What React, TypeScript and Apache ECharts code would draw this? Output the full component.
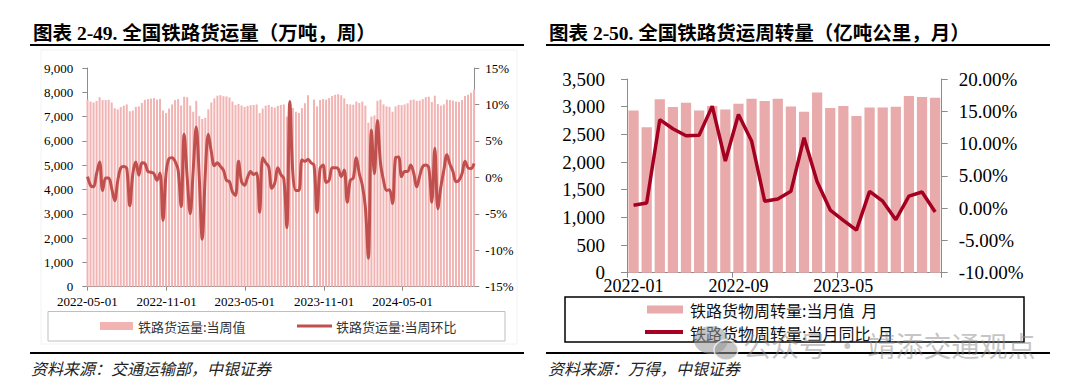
import React, { useEffect, useRef } from "react";
import * as echarts from "echarts";

// ---------- Left chart: weekly railway freight volume ----------
const weeklyStart = "2022-05-01";
const weeklyAxisMin = "2022-05-01";
const weeklyAxisMax = "2024-10-14";
const weeklyTickDates = ["2022-05-01", "2022-11-01", "2023-05-01", "2023-11-01", "2024-05-01"];

const weeklyVolume: (number | null)[] = [
  7700, 7620, 7580, 7640, 7800, 7680, 7680, 7690, 7580, 7340,
  7300, 7390, 7450, 7500, 7220, 7250, 7400, 7420, 7560, 7690,
  7720, 7740, 7760, 7700, 7730, 7250, 7150, 7330, 7500, 7680,
  7720, 7460, 7820, 7800, 7450, 7200, 7650, 7020, 6900, 6950,
  7300, 7580, 7750, 7860, 7880, 7840, 7830, 7790, 7620, 7480,
  7520, 7460, 7400, 7440, 7470, 7480, 7500, 7150, 7330, 7450,
  7480, 7400, 7370, 7440, 7480, 7500, 7000, 7620, 7350, 7200,
  7150, 7350, 7550, 7880, null, 7700, 7420, 7680, 7720, 7700,
  7760, 7850, 7900, 7920, 7880, 7750, 7520, 7500, 7490, 7620,
  7560, 7620, 7450, 6750, 7000, 7050, 7650, 7700, 7500, 7420,
  7400, 7200, 7420, 7480, 7470, 7500, 7550, 7680, 7700, 7650,
  7660, 7720, 7800, 7820, 7600, 7860, 7520, 7450, 7500, 7700,
  7680, 7660, 7620, 7600, 7680, 7850, 7900, 7980, 8120,
];

const weeklyWoW: number[] = [
  0.1, -1.1, -1.3, 0.5, 2.1, -1.8, -0.1, -0.1, -1.5, -3.2,
  -0.5, 1.3, 1.5, 1.2, -3.9, 0.5, 2.1, 0.3, 2.0, 1.9,
  0.8, 0.7, 0.5, -0.4, 0.6, -5.9, 0.5, 2.6, 2.7, 2.2,
  1.0, -4.0, 5.9, 0.0, -5.0, 1.0, 6.9, 0.0, -8.5, 0.5,
  5.9, 3.5, 1.6, 2.0, 1.5, 1.0, -0.4, -0.6, -2.0, -2.5,
  2.2, -0.6, -1.1, 0.0, 0.8, 0.4, 0.6, -4.8, 2.7, 2.0,
  1.4, -1.5, -0.8, 1.3, 0.4, -0.2, -6.9, 10.4, 0.5, -1.8,
  -1.8, 2.4, 2.2, 2.5, 2.0, 1.7, -4.8, 1.2, 1.7, -0.7,
  -0.4, 1.3, 1.3, 1.2, 0.1, 1.0, -3.4, -0.4, -0.1, 2.7,
  0.5, -1.1, -4.1, -11.1, 6.5, 0.5, 7.8, 2.0, -0.4, -1.8,
  -1.7, -3.6, 2.7, 2.8, 0.1, 0.8, 0.8, 1.7, 0.6, -1.3,
  0.2, 1.5, 1.7, 1.3, -3.4, 4.0, -4.3, -1.3, 1.0, 3.1,
  1.8, 0.8, -0.6, -0.4, 0.5, 2.2, 1.3, 1.2, 1.9,
];

// ---------- Right chart: monthly railway freight turnover ----------
const monthCategories = [
  "2022-01", "2022-02", "2022-03", "2022-04", "2022-05", "2022-06",
  "2022-07", "2022-08", "2022-09", "2022-10", "2022-11", "2022-12",
  "2023-01", "2023-02", "2023-03", "2023-04", "2023-05", "2023-06",
  "2023-07", "2023-08", "2023-09", "2023-10", "2023-11", "2023-12",
];
const monthTurnover = [
  2933, 2630, 3132, 2993, 3072, 2933, 3011, 2951, 3054, 3145, 3101, 3145,
  3005, 2909, 3254, 2975, 3011, 2830, 2987, 2987, 3000, 3192, 3174, 3163,
];
const monthYoY = [
  0.45, 0.8, 13.7, 12.3, 11.2, 11.3, 15.8, 7.3, 14.5, 10.4, 1.07, 1.4,
  2.6, 10.9, 4.1, -0.3, -1.9, -3.4, 2.6, 1.07, -1.8, 1.85, 2.5, -0.6,
];

const leftTitle = "图表 2-49. 全国铁路货运量（万吨，周）";
const rightTitle = "图表 2-50. 全国铁路货运周转量（亿吨公里，月）";
const leftLegend = ["铁路货运量:当周值", "铁路货运量:当周环比"];
const rightLegend = ["铁路货物周转量:当月值  月", "铁路货物周转量:当月同比  月"];
const leftSource = "资料来源：交通运输部，中银证券";
const rightSource = "资料来源：万得，中银证券";
const watermark = "公众号 · 靖添交通观点";

const SERIF = '"Liberation Serif", "Times New Roman", "Noto Sans CJK SC", serif';
const CJK = '"Noto Sans CJK SC", "Noto Sans", sans-serif';

const LEFT_BAR = "#F2B3B3";
const LEFT_LINE = "#C0504D";
const RIGHT_BAR = "#E8AAAA";
const RIGHT_LINE = "#A50021";
const AXIS_GRAY = "#8C8C8C";

function ts(s: string): number {
  const [y, m, d] = s.split("-").map(Number);
  return Date.UTC(y, m - 1, d);
}
function pad(n: number) {
  return n < 10 ? "0" + n : "" + n;
}
function fmtDate(v: number) {
  const d = new Date(v);
  return `${d.getUTCFullYear()}-${pad(d.getUTCMonth() + 1)}-${pad(d.getUTCDate())}`;
}
function thousands(v: number) {
  return v.toLocaleString("en-US");
}

export default function App() {
  const ref = useRef<HTMLDivElement>(null);

  useEffect(() => {
    if (!ref.current) return;
    const chart = echarts.init(ref.current, undefined, { renderer: "svg" });

    const DAY = 86400000;
    const start = ts(weeklyStart);
    const weekDates = weeklyWoW.map((_, i) => start + i * 7 * DAY + DAY / 2);
    const volData = weeklyVolume.map((v, i) => [weekDates[i], v == null ? "-" : v]);
    const wowData = weeklyWoW.map((v, i) => [weekDates[i], v]);
    const tickTs = weeklyTickDates.map(ts);

    const Z = 100;
    const graphic: any[] = [
      { type: "rect", z: 1, shape: { x: 41, y: 50, width: 476, height: 294 }, style: { fill: "none", stroke: "#F2F2F2", lineWidth: 1 } },
      { type: "text", z: Z, x: 33, y: 33, style: { text: leftTitle, font: `bold 19.5px ${SERIF}`, fill: "#000", verticalAlign: "middle" } },
      { type: "text", z: Z, x: 549, y: 33, style: { text: rightTitle, font: `bold 19.5px ${SERIF}`, fill: "#000", verticalAlign: "middle" } },
      { type: "line", z: Z, shape: { x1: 30, y1: 45, x2: 524, y2: 45 }, style: { stroke: "#000", lineWidth: 2 } },
      { type: "line", z: Z, shape: { x1: 546, y1: 45, x2: 1050, y2: 45 }, style: { stroke: "#000", lineWidth: 2 } },
      { type: "line", z: Z, shape: { x1: 30, y1: 353, x2: 524, y2: 353 }, style: { stroke: "#000", lineWidth: 2 } },
      { type: "line", z: Z, shape: { x1: 546, y1: 353, x2: 1050, y2: 353 }, style: { stroke: "#000", lineWidth: 2 } },
      { type: "text", z: Z, x: 31, y: 368, style: { text: leftSource, font: `italic 16px ${CJK}`, fill: "#222", verticalAlign: "middle" } },
      { type: "text", z: Z, x: 548, y: 368, style: { text: rightSource, font: `italic 16px ${CJK}`, fill: "#222", verticalAlign: "middle" } },
      { type: "rect", z: Z, shape: { x: 48, y: 311.5, width: 457, height: 29.5 }, style: { fill: "#fff", stroke: "#BFBFBF", lineWidth: 1 } },
      { type: "rect", z: Z + 1, shape: { x: 100, y: 322, width: 33, height: 8 }, style: { fill: LEFT_BAR } },
      { type: "text", z: Z + 1, x: 138, y: 326, style: { text: leftLegend[0], font: `13px ${CJK}`, fill: "#333", verticalAlign: "middle" } },
      { type: "line", z: Z + 1, shape: { x1: 297, y1: 326, x2: 332, y2: 326 }, style: { stroke: LEFT_LINE, lineWidth: 3 } },
      { type: "text", z: Z + 1, x: 336, y: 326, style: { text: leftLegend[1], font: `13px ${CJK}`, fill: "#333", verticalAlign: "middle" } },
      { type: "rect", z: Z, shape: { x: 565, y: 297, width: 459, height: 45 }, style: { fill: "#fff", stroke: "#000", lineWidth: 1.5 } },
      { type: "rect", z: Z + 1, shape: { x: 647, y: 305.5, width: 36, height: 8 }, style: { fill: RIGHT_BAR } },
      { type: "text", z: Z + 1, x: 690, y: 309.5, style: { text: rightLegend[0], font: `16px ${CJK}`, fill: "#111", verticalAlign: "middle" } },
      { type: "line", z: Z + 1, shape: { x1: 645, y1: 332, x2: 683, y2: 332 }, style: { stroke: RIGHT_LINE, lineWidth: 4 } },
      { type: "text", z: Z + 1, x: 690, y: 333, style: { text: rightLegend[1], font: `16px ${CJK}`, fill: "#111", verticalAlign: "middle" } },
      { type: "ellipse", z: Z + 5, shape: { cx: 711, cy: 340, rx: 17, ry: 14 }, style: { fill: "rgba(150,150,150,0.55)" } },
      { type: "ellipse", z: Z + 6, shape: { cx: 726, cy: 350, rx: 12, ry: 10 }, style: { fill: "rgba(150,150,150,0.55)", stroke: "rgba(255,255,255,0.7)", lineWidth: 1.5 } },
      { type: "text", z: Z + 5, x: 743, y: 345, style: { text: watermark, font: `28px ${CJK}`, fill: "rgba(140,140,140,0.5)", verticalAlign: "middle" } },
    ];

    const axisLineStyle = { color: AXIS_GRAY, width: 1 };

    chart.setOption({
      animation: false,
      backgroundColor: "#fff",
      graphic,
      grid: [
        { left: 87.3, top: 68, width: 387, height: 218.7, containLabel: false },
        { left: 627, top: 79, width: 314.7, height: 193.7, containLabel: false },
      ],
      xAxis: [
        {
          type: "value",
          gridIndex: 0,
          min: ts(weeklyAxisMin),
          max: ts(weeklyAxisMax),
          axisLine: { show: true, onZero: false, lineStyle: axisLineStyle },
          axisTick: { show: true, customValues: tickTs, length: 4, lineStyle: axisLineStyle },
          axisLabel: { customValues: tickTs, formatter: (v: number) => fmtDate(v), fontFamily: SERIF, fontSize: 13, color: "#000", margin: 8 },
          splitLine: { show: false },
        },
        {
          type: "category",
          gridIndex: 1,
          data: monthCategories,
          axisLine: { show: true, lineStyle: axisLineStyle },
          axisTick: { show: true, interval: 7, length: 5, lineStyle: axisLineStyle },
          axisLabel: { interval: 7, fontFamily: SERIF, fontSize: 18, color: "#000", margin: 4 },
          splitLine: { show: false },
        },
      ],
      yAxis: [
        {
          type: "value",
          gridIndex: 0,
          position: "left",
          min: 0,
          max: 9000,
          interval: 1000,
          axisLine: { show: true, lineStyle: axisLineStyle },
          axisTick: { show: true, length: 5, lineStyle: axisLineStyle },
          axisLabel: { formatter: (v: number) => thousands(v), fontFamily: SERIF, fontSize: 13, color: "#000", margin: 14 },
          splitLine: { show: false },
        },
        {
          type: "value",
          gridIndex: 0,
          position: "right",
          min: -15,
          max: 15,
          interval: 5,
          axisLine: { show: true, lineStyle: axisLineStyle },
          axisTick: { show: true, length: 5, lineStyle: axisLineStyle },
          axisLabel: { formatter: (v: number) => v + "%", fontFamily: SERIF, fontSize: 13, color: "#000", margin: 11 },
          splitLine: { show: false },
        },
        {
          type: "value",
          gridIndex: 1,
          position: "left",
          min: 0,
          max: 3500,
          interval: 500,
          axisLine: { show: true, lineStyle: axisLineStyle },
          axisTick: { show: true, length: 6, lineStyle: axisLineStyle },
          axisLabel: { formatter: (v: number) => thousands(v), fontFamily: SERIF, fontSize: 19, color: "#000", margin: 22 },
          splitLine: { show: false },
        },
        {
          type: "value",
          gridIndex: 1,
          position: "right",
          min: -10,
          max: 20,
          interval: 5,
          axisLine: { show: true, lineStyle: axisLineStyle },
          axisTick: { show: true, length: 6, lineStyle: axisLineStyle },
          axisLabel: { formatter: (v: number) => v.toFixed(2) + "%", fontFamily: SERIF, fontSize: 19, color: "#000", margin: 17 },
          splitLine: { show: false },
        },
      ],
      series: [
        {
          name: leftLegend[0],
          type: "bar",
          xAxisIndex: 0,
          yAxisIndex: 0,
          data: volData,
          barWidth: 2,
          itemStyle: { color: LEFT_BAR },
          z: 2,
        },
        {
          name: leftLegend[1],
          type: "line",
          xAxisIndex: 0,
          yAxisIndex: 1,
          data: wowData,
          smooth: 0.35,
          symbol: "none",
          lineStyle: { color: LEFT_LINE, width: 3 },
          z: 3,
        },
        {
          name: rightLegend[0],
          type: "bar",
          xAxisIndex: 1,
          yAxisIndex: 2,
          data: monthTurnover,
          barCategoryGap: "22%",
          itemStyle: { color: RIGHT_BAR },
          z: 2,
        },
        {
          name: rightLegend[1],
          type: "line",
          xAxisIndex: 1,
          yAxisIndex: 3,
          data: monthYoY,
          symbol: "none",
          lineStyle: { color: RIGHT_LINE, width: 3.5 },
          z: 3,
        },
      ],
    });

    return () => chart.dispose();
  }, []);

  return (
    <div
      ref={ref}
      style={{ position: "fixed", left: 0, top: 0, width: 1080, height: 386, background: "#fff" }}
    />
  );
}
